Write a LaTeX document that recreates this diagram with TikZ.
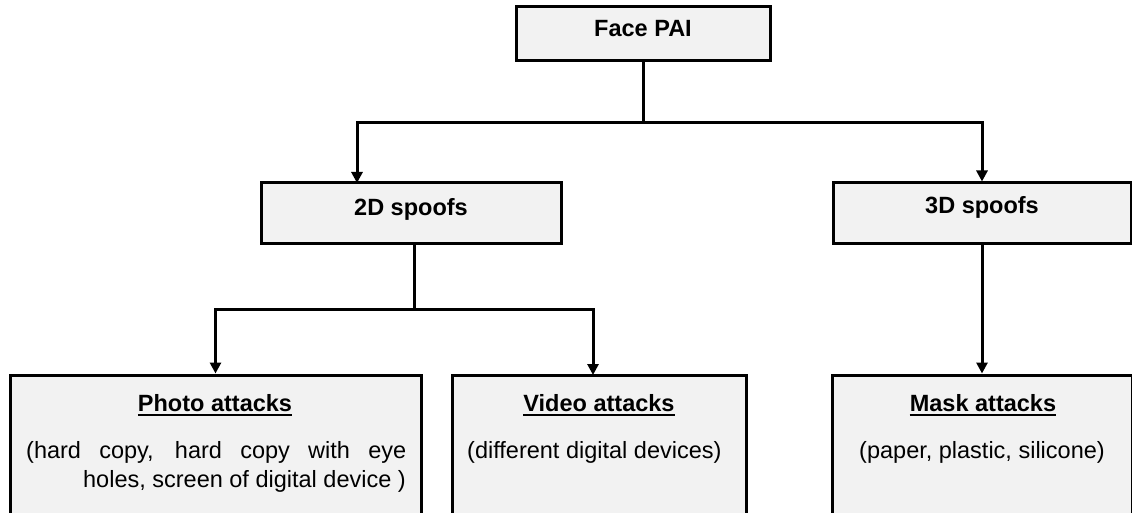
\documentclass[tikz,border=0pt]{standalone}
\usepackage{fontspec}
\setmainfont{Liberation Sans}
\usetikzlibrary{arrows.meta}
\definecolor{boxgray}{HTML}{F2F2F2}
\begin{document}
\begin{tikzpicture}[x=1pt,y=-1pt,
  box/.style={draw=black,line width=3pt,fill=boxgray,inner sep=0pt,rectangle},
  head/.style={font=\fontsize{23.5}{28}\selectfont\bfseries,inner sep=0pt,anchor=base},
  body/.style={font=\fontsize{23.5}{28}\selectfont,inner sep=0pt},
  conn/.style={line width=3pt},
  arr/.style={conn,-{Triangle[width=11pt,length=11pt]}},
  uline/.style={line width=2pt}]
\useasboundingbox (0,0) rectangle (1132,513);
\clip (0,0) rectangle (1132,513);
% boxes
\node[box,minimum width=254pt,minimum height=54pt] (face) at (643,34) {};
\node[box,minimum width=300pt,minimum height=60pt] (d2) at (411,213) {};
\node[box,minimum width=298pt,minimum height=60pt] (d3) at (982,213) {};
\node[box,minimum width=411pt,minimum height=200pt] (photo) at (215.5,475) {};
\node[box,minimum width=294pt,minimum height=200pt] (video) at (599,475) {};
\node[box,minimum width=300pt,minimum height=200pt] (mask) at (982,475) {};
% headings
\node[head] (facet) at (643,37) {Face PAI};
\node[head] (d2t) at (411,215) {2D spoofs};
\node[head] (d3t) at (982,214) {3D spoofs};
\node[head] (phot) at (215,411) {Photo attacks};
\node[head] (vidt) at (599,411) {Video attacks};
\node[head] (mast) at (983,411) {Mask attacks};
\draw[uline] ([yshift=-3.5pt]phot.base west) -- ([yshift=-3.5pt]phot.base east);
\draw[uline] ([yshift=-3.5pt]vidt.base west) -- ([yshift=-3.5pt]vidt.base east);
\draw[uline] ([yshift=-3.5pt]mast.base west) -- ([yshift=-3.5pt]mast.base east);
% body texts
\node[body,anchor=base west] (pb1) at (26,458) {\makebox[380pt][s]{(hard copy, hard copy with eye}};
\node[body,anchor=base east] (pb2) at (406,487) {holes, screen of digital device )};
\node[body,anchor=base west] (vb) at (467,458) {(different digital devices)};
\node[body,anchor=base] (mb) at (982,458) {(paper, plastic, silicone)};
% connectors
\coordinate (j1) at (643,123);
\coordinate (t2d) at (357,183);
\draw[conn] (face.south) -- (j1);
\draw[arr] (j1) -| (t2d);
\draw[arr] (j1) -| (d3.north);
\coordinate (j2) at (414,309);
\coordinate (tv) at (593,375);
\draw[conn] (d2.south -| j2) -- (j2);
\draw[arr] (j2) -| (photo.north);
\draw[arr] (j2) -| (tv);
\draw[arr] (d3.south) -- (mask.north);
\end{tikzpicture}
\end{document}
